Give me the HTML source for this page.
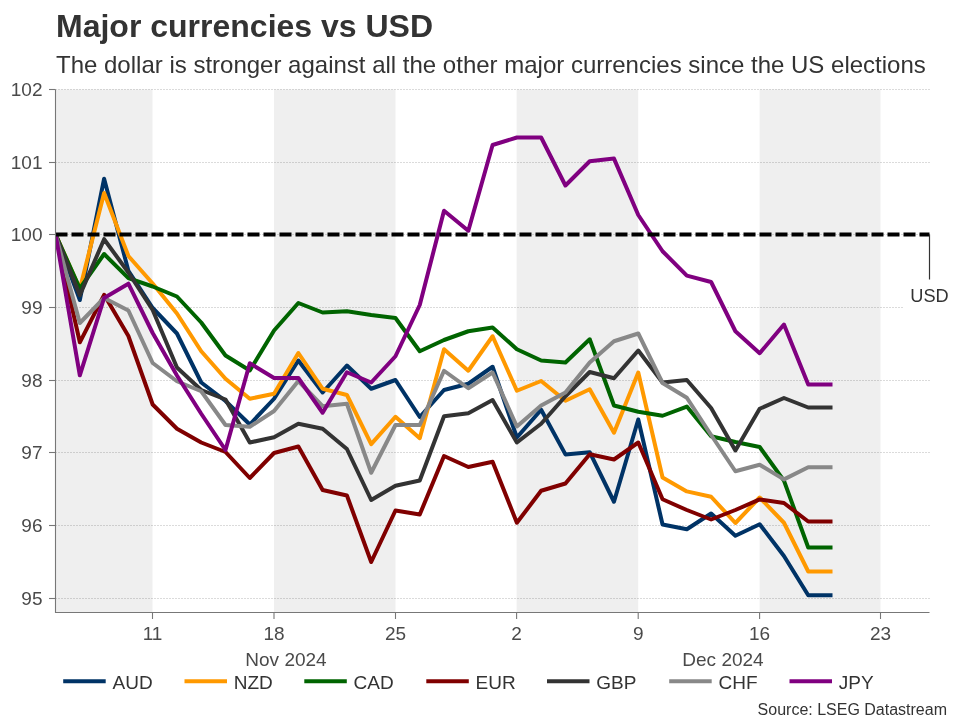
<!DOCTYPE html>
<html><head><meta charset="utf-8"><title>Major currencies vs USD</title>
<style>
html,body{margin:0;padding:0;background:#fff;}
body{width:960px;height:720px;overflow:hidden;}
svg{display:block;}
text{font-family:"Liberation Sans",Arial,sans-serif;}
</style></head><body>
<svg width="960" height="720" viewBox="0 0 960 720">
<rect x="0" y="0" width="960" height="720" fill="#ffffff"/>

<rect x="55.50" y="89.5" width="97.00" height="523.0" fill="#efefef"/>
<rect x="274.00" y="89.5" width="121.50" height="523.0" fill="#efefef"/>
<rect x="516.60" y="89.5" width="121.60" height="523.0" fill="#efefef"/>
<rect x="759.60" y="89.5" width="120.90" height="523.0" fill="#efefef"/>
<line x1="55" y1="89.50" x2="929.5" y2="89.50" stroke="#000" stroke-opacity="0.14" stroke-width="1" stroke-dasharray="2 1" shape-rendering="crispEdges"/>
<line x1="55" y1="162.50" x2="929.5" y2="162.50" stroke="#000" stroke-opacity="0.14" stroke-width="1" stroke-dasharray="2 1" shape-rendering="crispEdges"/>
<line x1="55" y1="234.50" x2="929.5" y2="234.50" stroke="#000" stroke-opacity="0.14" stroke-width="1" stroke-dasharray="2 1" shape-rendering="crispEdges"/>
<line x1="55" y1="307.50" x2="903" y2="307.50" stroke="#000" stroke-opacity="0.14" stroke-width="1" stroke-dasharray="2 1" shape-rendering="crispEdges"/>
<line x1="55" y1="380.50" x2="929.5" y2="380.50" stroke="#000" stroke-opacity="0.14" stroke-width="1" stroke-dasharray="2 1" shape-rendering="crispEdges"/>
<line x1="55" y1="452.50" x2="929.5" y2="452.50" stroke="#000" stroke-opacity="0.14" stroke-width="1" stroke-dasharray="2 1" shape-rendering="crispEdges"/>
<line x1="55" y1="525.50" x2="929.5" y2="525.50" stroke="#000" stroke-opacity="0.14" stroke-width="1" stroke-dasharray="2 1" shape-rendering="crispEdges"/>
<line x1="55" y1="598.50" x2="929.5" y2="598.50" stroke="#000" stroke-opacity="0.14" stroke-width="1" stroke-dasharray="2 1" shape-rendering="crispEdges"/>
<clipPath id="pc"><rect x="55.5" y="79.5" width="874.0" height="533.0"/></clipPath><g clip-path="url(#pc)">
<polyline points="55.55,234.40 79.83,300.00 104.11,178.70 128.39,270.80 152.67,308.00 176.95,333.50 201.23,382.50 225.51,401.00 249.79,424.50 274.07,398.75 298.35,360.50 322.63,392.50 346.91,365.50 371.19,388.75 395.47,380.00 419.75,417.00 444.03,390.00 468.31,383.75 492.59,366.75 516.87,437.50 541.15,409.70 565.43,454.40 589.71,452.20 613.99,501.75 638.27,419.50 662.55,524.50 686.83,529.30 711.11,513.50 735.39,535.75 759.67,524.25 783.95,556.00 808.23,595.30 832.51,595.30" fill="none" stroke="#003366" stroke-width="4" stroke-linejoin="round" stroke-linecap="butt"/>
<polyline points="55.55,234.40 79.83,289.00 104.11,193.00 128.39,256.00 152.67,283.50 176.95,313.50 201.23,351.25 225.51,378.75 249.79,398.75 274.07,393.75 298.35,353.00 322.63,388.75 346.91,395.00 371.19,444.20 395.47,416.75 419.75,438.25 444.03,349.25 468.31,370.75 492.59,336.25 516.87,390.75 541.15,381.00 565.43,400.75 589.71,389.25 613.99,432.75 638.27,372.50 662.55,477.50 686.83,491.40 711.11,496.75 735.39,523.00 759.67,497.50 783.95,522.75 808.23,571.50 832.51,571.50" fill="none" stroke="#ff9900" stroke-width="4" stroke-linejoin="round" stroke-linecap="butt"/>
<polyline points="55.55,234.40 79.83,288.50 104.11,254.00 128.39,278.20 152.67,286.50 176.95,296.50 201.23,322.50 225.51,355.50 249.79,370.50 274.07,330.50 298.35,303.00 322.63,312.50 346.91,311.25 371.19,315.00 395.47,318.00 419.75,351.25 444.03,340.00 468.31,331.25 492.59,327.50 516.87,349.25 541.15,360.50 565.43,362.50 589.71,339.25 613.99,405.50 638.27,411.75 662.55,415.75 686.83,406.60 711.11,436.25 735.39,442.00 759.67,447.00 783.95,480.60 808.23,547.50 832.51,547.50" fill="none" stroke="#006400" stroke-width="4" stroke-linejoin="round" stroke-linecap="butt"/>
<polyline points="55.55,234.40 79.83,342.30 104.11,294.80 128.39,336.00 152.67,404.50 176.95,428.75 201.23,442.50 225.51,452.00 249.79,478.00 274.07,453.00 298.35,446.50 322.63,490.00 346.91,495.50 371.19,562.00 395.47,510.50 419.75,514.50 444.03,456.00 468.31,467.00 492.59,461.75 516.87,522.75 541.15,490.75 565.43,483.50 589.71,454.25 613.99,459.50 638.27,442.50 662.55,499.25 686.83,510.00 711.11,519.50 735.39,510.00 759.67,499.40 783.95,503.00 808.23,521.50 832.51,521.50" fill="none" stroke="#800000" stroke-width="4" stroke-linejoin="round" stroke-linecap="butt"/>
<polyline points="55.55,234.40 79.83,295.30 104.11,239.20 128.39,272.50 152.67,310.00 176.95,367.50 201.23,390.00 225.51,399.50 249.79,442.50 274.07,437.30 298.35,423.75 322.63,428.75 346.91,449.00 371.19,500.00 395.47,485.75 419.75,480.50 444.03,416.25 468.31,413.25 492.59,400.10 516.87,442.50 541.15,423.75 565.43,396.25 589.71,372.00 613.99,378.25 638.27,350.50 662.55,382.50 686.83,380.00 711.11,408.00 735.39,450.50 759.67,408.75 783.95,398.00 808.23,407.50 832.51,407.50" fill="none" stroke="#333333" stroke-width="4" stroke-linejoin="round" stroke-linecap="butt"/>
<polyline points="55.55,234.40 79.83,323.00 104.11,298.00 128.39,310.50 152.67,363.00 176.95,381.25 201.23,391.25 225.51,425.00 249.79,426.75 274.07,411.00 298.35,381.00 322.63,406.25 346.91,403.75 371.19,472.75 395.47,425.00 419.75,425.00 444.03,370.75 468.31,388.25 492.59,372.50 516.87,426.50 541.15,405.50 565.43,392.50 589.71,362.50 613.99,341.25 638.27,333.50 662.55,383.00 686.83,397.75 711.11,435.00 735.39,471.25 759.67,464.75 783.95,479.40 808.23,467.25 832.51,467.25" fill="none" stroke="#888888" stroke-width="4" stroke-linejoin="round" stroke-linecap="butt"/>
<polyline points="55.55,234.40 79.83,375.30 104.11,298.00 128.39,283.70 152.67,333.00 176.95,375.50 201.23,413.75 225.51,450.00 249.79,363.25 274.07,378.00 298.35,378.00 322.63,412.75 346.91,372.25 371.19,382.50 395.47,356.25 419.75,305.00 444.03,210.75 468.31,230.75 492.59,145.00 516.87,137.50 541.15,137.50 565.43,185.50 589.71,161.25 613.99,158.60 638.27,215.00 662.55,251.25 686.83,275.60 711.11,282.00 735.39,331.25 759.67,353.25 783.95,324.50 808.23,384.60 832.51,384.60" fill="none" stroke="#800080" stroke-width="4" stroke-linejoin="round" stroke-linecap="butt"/>
</g>
<line x1="55.5" y1="234.5" x2="929.5" y2="234.5" stroke="#000" stroke-width="4" stroke-dasharray="12 4"/>
<line x1="929.5" y1="234.4" x2="929.5" y2="279.5" stroke="#333" stroke-width="1.2"/>
<text x="929.5" y="302.2" font-size="18.2" text-anchor="middle" fill="#333">USD</text>
<line x1="55.5" y1="89.5" x2="55.5" y2="613.0" stroke="#777" stroke-width="1.1"/>
<line x1="55.0" y1="612.5" x2="929.5" y2="612.5" stroke="#777" stroke-width="1.1"/>
<line x1="49.0" y1="89.50" x2="55.5" y2="89.50" stroke="#777" stroke-width="1.1"/>
<text x="42.5" y="96.40" font-size="19" text-anchor="end" fill="#4a4a4a">102</text>
<line x1="49.0" y1="162.50" x2="55.5" y2="162.50" stroke="#777" stroke-width="1.1"/>
<text x="42.5" y="169.40" font-size="19" text-anchor="end" fill="#4a4a4a">101</text>
<line x1="49.0" y1="234.50" x2="55.5" y2="234.50" stroke="#777" stroke-width="1.1"/>
<text x="42.5" y="241.40" font-size="19" text-anchor="end" fill="#4a4a4a">100</text>
<line x1="49.0" y1="307.50" x2="55.5" y2="307.50" stroke="#777" stroke-width="1.1"/>
<text x="42.5" y="314.40" font-size="19" text-anchor="end" fill="#4a4a4a">99</text>
<line x1="49.0" y1="380.50" x2="55.5" y2="380.50" stroke="#777" stroke-width="1.1"/>
<text x="42.5" y="387.40" font-size="19" text-anchor="end" fill="#4a4a4a">98</text>
<line x1="49.0" y1="452.50" x2="55.5" y2="452.50" stroke="#777" stroke-width="1.1"/>
<text x="42.5" y="459.40" font-size="19" text-anchor="end" fill="#4a4a4a">97</text>
<line x1="49.0" y1="525.50" x2="55.5" y2="525.50" stroke="#777" stroke-width="1.1"/>
<text x="42.5" y="532.40" font-size="19" text-anchor="end" fill="#4a4a4a">96</text>
<line x1="49.0" y1="598.50" x2="55.5" y2="598.50" stroke="#777" stroke-width="1.1"/>
<text x="42.5" y="605.40" font-size="19" text-anchor="end" fill="#4a4a4a">95</text>
<line x1="152.50" y1="612.5" x2="152.50" y2="619.0" stroke="#777" stroke-width="1.1"/>
<text x="152.50" y="639.8" font-size="19" text-anchor="middle" fill="#4a4a4a">11</text>
<line x1="274.00" y1="612.5" x2="274.00" y2="619.0" stroke="#777" stroke-width="1.1"/>
<text x="274.00" y="639.8" font-size="19" text-anchor="middle" fill="#4a4a4a">18</text>
<line x1="395.50" y1="612.5" x2="395.50" y2="619.0" stroke="#777" stroke-width="1.1"/>
<text x="395.50" y="639.8" font-size="19" text-anchor="middle" fill="#4a4a4a">25</text>
<line x1="516.60" y1="612.5" x2="516.60" y2="619.0" stroke="#777" stroke-width="1.1"/>
<text x="516.60" y="639.8" font-size="19" text-anchor="middle" fill="#4a4a4a">2</text>
<line x1="638.20" y1="612.5" x2="638.20" y2="619.0" stroke="#777" stroke-width="1.1"/>
<text x="638.20" y="639.8" font-size="19" text-anchor="middle" fill="#4a4a4a">9</text>
<line x1="759.60" y1="612.5" x2="759.60" y2="619.0" stroke="#777" stroke-width="1.1"/>
<text x="759.60" y="639.8" font-size="19" text-anchor="middle" fill="#4a4a4a">16</text>
<line x1="880.50" y1="612.5" x2="880.50" y2="619.0" stroke="#777" stroke-width="1.1"/>
<text x="880.50" y="639.8" font-size="19" text-anchor="middle" fill="#4a4a4a">23</text>
<text x="286" y="666.4" font-size="19" text-anchor="middle" fill="#4a4a4a">Nov 2024</text>
<text x="723" y="666.4" font-size="19" text-anchor="middle" fill="#4a4a4a">Dec 2024</text>
<text x="56" y="36.6" font-size="32" font-weight="bold" fill="#333">Major currencies vs USD</text>
<text x="56" y="72.6" font-size="24" fill="#333">The dollar is stronger against all the other major currencies since the US elections</text>
<line x1="63.20" y1="681.3" x2="105.70" y2="681.3" stroke="#003366" stroke-width="4"/>
<text x="112.50" y="688.9" font-size="19" fill="#333">AUD</text>
<line x1="184.50" y1="681.3" x2="227.00" y2="681.3" stroke="#ff9900" stroke-width="4"/>
<text x="233.80" y="688.9" font-size="19" fill="#333">NZD</text>
<line x1="304.30" y1="681.3" x2="346.80" y2="681.3" stroke="#006400" stroke-width="4"/>
<text x="353.60" y="688.9" font-size="19" fill="#333">CAD</text>
<line x1="426.30" y1="681.3" x2="468.80" y2="681.3" stroke="#800000" stroke-width="4"/>
<text x="475.60" y="688.9" font-size="19" fill="#333">EUR</text>
<line x1="547.00" y1="681.3" x2="589.50" y2="681.3" stroke="#333333" stroke-width="4"/>
<text x="596.30" y="688.9" font-size="19" fill="#333">GBP</text>
<line x1="669.20" y1="681.3" x2="711.70" y2="681.3" stroke="#888888" stroke-width="4"/>
<text x="718.50" y="688.9" font-size="19" fill="#333">CHF</text>
<line x1="789.50" y1="681.3" x2="832.00" y2="681.3" stroke="#800080" stroke-width="4"/>
<text x="838.80" y="688.9" font-size="19" fill="#333">JPY</text>
<text x="947" y="715" font-size="16" text-anchor="end" fill="#333">Source: LSEG Datastream</text>
</svg></body></html>
